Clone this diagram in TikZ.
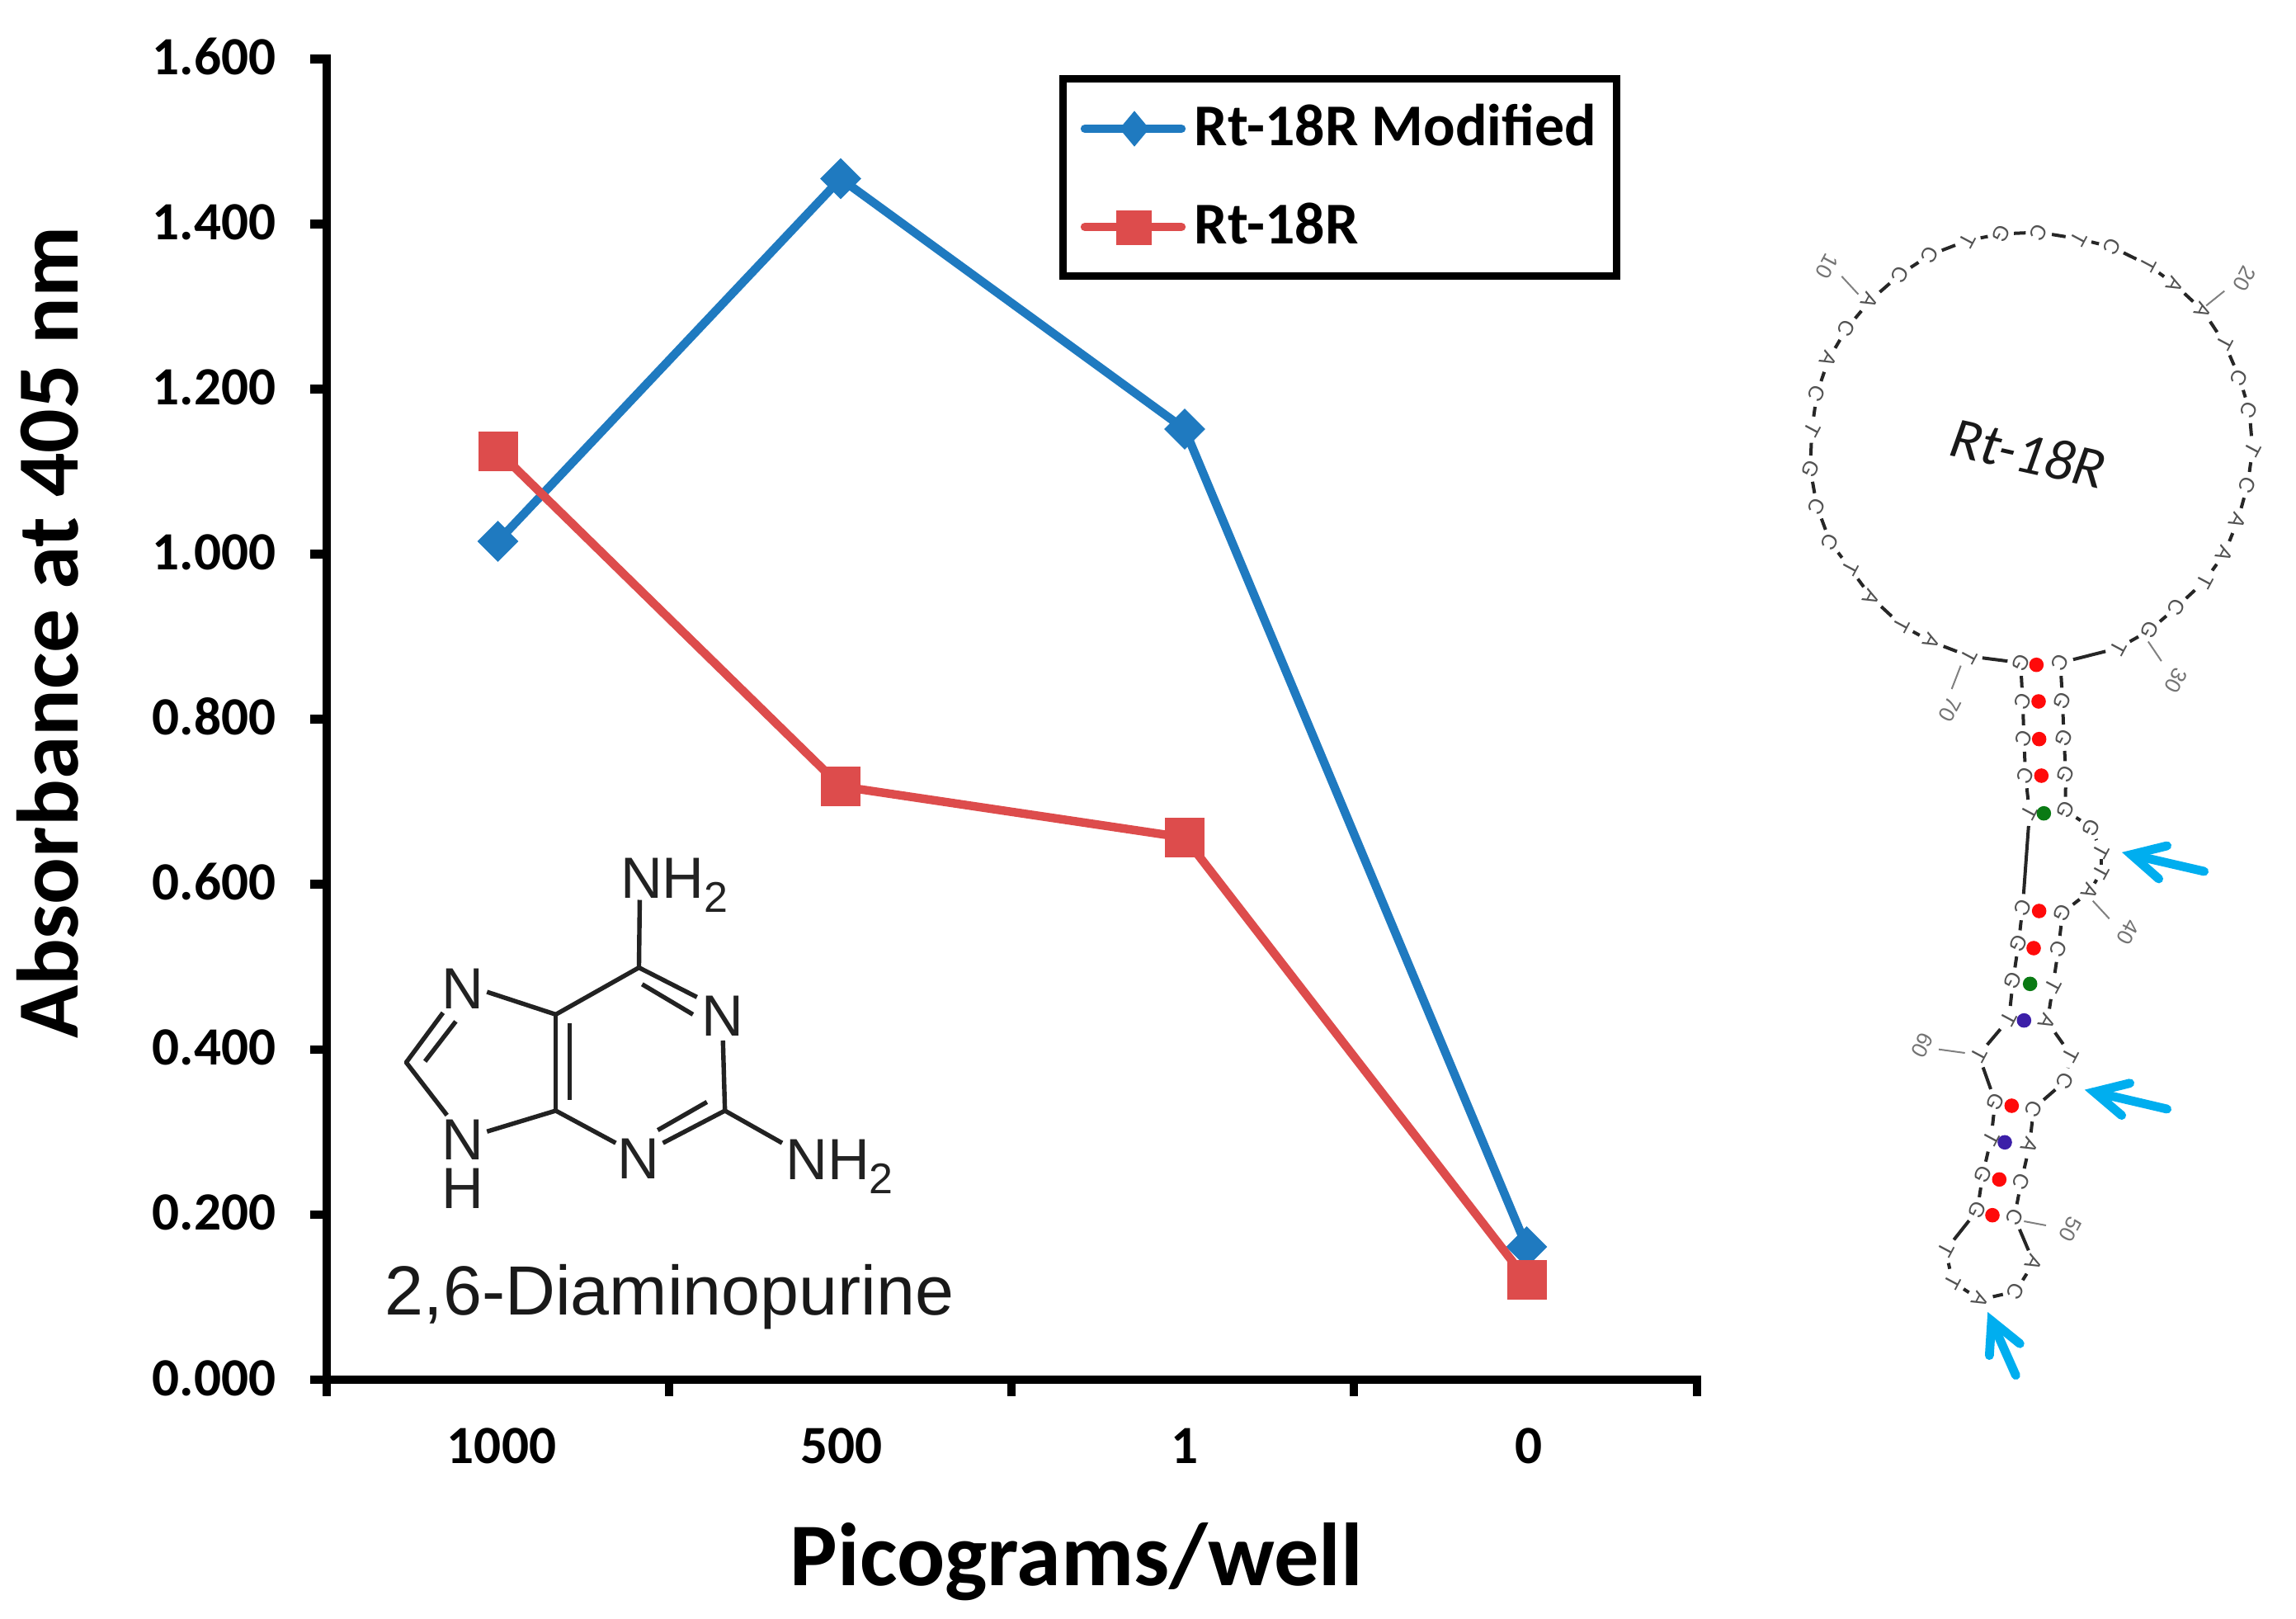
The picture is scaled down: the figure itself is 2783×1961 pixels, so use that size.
\documentclass[tikz,border=0pt]{standalone}
\usepackage{fontspec}
\setmainfont{Carlito}
\newfontfamily\arialf{Liberation Sans}
\usetikzlibrary{shapes.geometric}
\newcommand{\fsz}[1]{\fontsize{#1}{#1}\selectfont}
\definecolor{serblue}{HTML}{1F7AC0}
\definecolor{serred}{HTML}{DD4C4C}
\definecolor{arrowcyan}{HTML}{00AEEF}
\definecolor{bpred}{HTML}{FF0A0A}
\definecolor{bpgreen}{HTML}{0A7A14}
\definecolor{bppurple}{HTML}{3C1FA8}
\definecolor{chemink}{HTML}{222222}
\tikzset{
  axisline/.style={line width=2.65pt,black},
  ticklbl/.style={font=\bfseries\fsz{16.3},inner sep=0pt,black},
  axistitle/.style={font=\bfseries\fsz{26.45},inner sep=0pt,black},
  blueline/.style={line width=2.6pt,serblue},
  redline/.style={line width=2.6pt,serred},
  bluemark/.style={diamond,fill=serblue,inner sep=0pt,minimum size=12.6pt},
  redmark/.style={rectangle,fill=serred,inner sep=0pt,minimum size=12pt},
  legtext/.style={font=\bfseries\fsz{17.95},inner sep=0pt,anchor=base west,black},
  bondline/.style={line width=1.35pt,chemink},
  atom/.style={font=\arialf\fsz{17.6},inner sep=1.2pt,text=chemink},
  bp/.style={circle,fill=#1,inner sep=0pt,minimum size=4.4pt},
  nt/.style={font=\arialf\fsz{6.4},inner sep=0pt,rotate=-118,text=black!68},
  numlbl/.style={font=\arialf\fsz{6.6},inner sep=0pt,rotate=-118,text=black!55},
  numtick/.style={line width=0.5pt,black!50},
  chain/.style={line width=1pt,black!85,shorten >=4pt,shorten <=4pt},
  cyanarrow/.style={line width=2.7pt,arrowcyan,line cap=round,line join=miter,miter limit=10},
}
\begin{document}
\begin{tikzpicture}[x=0.25pt,y=-0.25pt]
\useasboundingbox (0,0) rectangle (2783,1961);
% ---------- axes
\draw[axisline] (396,66) -- (396,1692);
\draw[axisline] (376,1672) -- (2062,1672);
\foreach \i/\lab in {0/0.000,1/0.200,2/0.400,3/0.600,4/0.800,5/1.000,6/1.200,7/1.400,8/1.600}{
  \pgfmathsetmacro\yy{1672-\i*200.1}
  \pgfmathsetmacro\yb{\yy+19}
  \draw[axisline] (376,\yy) -- (396,\yy);
  \node[ticklbl,anchor=base east] (yl\i) at (335,\yb) {\lab};
}
\foreach \xx in {811,1226,1641,2057}{ \draw[axisline] (\xx,1672) -- (\xx,1692); }
\foreach \nm/\lab/\xx in {xa/1000/608,xb/500/1020,xc/1/1436.5,xd/0/1853}{
  \node[ticklbl,anchor=base] (\nm) at (\xx,1773) {\lab};
}
\node[axistitle,anchor=base,font=\bfseries\fsz{27.1}] (xtitle) at (1305,1921) {Picograms/well};
\node[axistitle,anchor=base,rotate=90] (ytitle) at (94,767) {Absorbance at 405 nm};
% ---------- data
\coordinate (b1) at (603.5,656);
\coordinate (b2) at (1019,216.5);
\coordinate (b3) at (1436,520);
\coordinate (b4) at (1850.5,1511);
\coordinate (r1) at (604,547);
\coordinate (r2) at (1019,953);
\coordinate (r3) at (1436,1015);
\coordinate (r4) at (1850.5,1551);
\draw[blueline,line join=round] (b1) -- (b2) -- (b3) -- (b4);
\foreach \p in {b1,b2,b3,b4}{ \node[bluemark] (m\p) at (\p) {}; }
\draw[redline,line join=round] (r1) -- (r2) -- (r3) -- (r4);
\foreach \p in {r1,r2,r3,r4}{ \node[redmark] (m\p) at (\p) {}; }
% ---------- legend
\node[draw=black,line width=2.2pt,inner sep=0pt,minimum width=167.9pt,minimum height=59.7pt,fill=white] (legend) at (1624,215) {};
\coordinate (la1) at (1315,156); \coordinate (la2) at (1432,156);
\coordinate (lb1) at (1315,275); \coordinate (lb2) at (1432,275);
\draw[blueline,line cap=round] (la1) -- (la2);
\draw[redline,line cap=round] (lb1) -- (lb2);
\node[diamond,fill=serblue,inner sep=0pt,minimum width=9.2pt,minimum height=11pt,shape aspect=0.84] (lm1) at (1375,156) {};
\node[rectangle,fill=serred,inner sep=0pt,minimum width=10.7pt,minimum height=10.6pt] (lm2) at (1374.5,276) {};
\node[legtext] (lt1) at (1447,176) {Rt-18R Modified};
\node[legtext] (lt2) at (1447,295) {Rt-18R};
% ---------- 2,6-diaminopurine
\begin{scope}[shift={(440,1000)},x=0.12118pt,y=-0.10522pt]
  \coordinate (C6) at (690,410);
  \coordinate (C5) at (482,545);
  \coordinate (C4) at (482,822);
  \coordinate (C2) at (905,822);
  \coordinate (C8) at (108,683);
  \node[atom] (N1) at (900,550) {N};
  \node[atom] (N3) at (688,960) {N};
  \node[atom] (N7) at (250,470) {N};
  \node[atom] (N9) at (250,905) {N};
  \node[atom] (H9) at (250,1045) {H};
  \node[atom,anchor=base west,inner sep=0pt] (nhtop) at (642,210) {NH\raisebox{-4.2pt}{\fsz{13}2}};
  \node[atom,anchor=base west,inner sep=0pt] (nhbot) at (1055,1020) {NH\raisebox{-4.2pt}{\fsz{13}2}};
  \coordinate (endtop) at (692,215);
  \coordinate (endbot) at (1048,915);
  \coordinate (d1a) at (698,458); \coordinate (d1b) at (825,545);
  \coordinate (d2a) at (517,570); \coordinate (d2b) at (517,790);
  \coordinate (d3a) at (737,878); \coordinate (d3b) at (860,797);
  \coordinate (d4a) at (232,565); \coordinate (d4b) at (155,680);
  \coordinate (o1) at (835,495);
  \coordinate (o2) at (632,915);
  \coordinate (o3) at (750,915);
  \coordinate (o4) at (900,620);
  \coordinate (o5) at (310,882);
  \coordinate (o6) at (310,480);
  \coordinate (o7) at (200,540);
  \coordinate (o8) at (210,835);
  \draw[bondline] (C6) -- (endtop);
  \draw[bondline] (C6) -- (o1);
  \draw[bondline] (d1a) -- (d1b);
  \draw[bondline] (C6) -- (C5);
  \draw[bondline] (C5) -- (C4);
  \draw[bondline] (d2a) -- (d2b);
  \draw[bondline] (C4) -- (o2);
  \draw[bondline] (o3) -- (C2);
  \draw[bondline] (d3a) -- (d3b);
  \draw[bondline] (C2) -- (o4);
  \draw[bondline] (C2) -- (endbot);
  \draw[bondline] (C4) -- (o5);
  \draw[bondline] (C5) -- (o6);
  \draw[bondline,line join=round] (o7) -- (C8) -- (o8);
  \draw[bondline] (d4a) -- (d4b);
\end{scope}
\node[font=\arialf\fsz{21.1},inner sep=0pt,anchor=base west,text=black!90] (chemname) at (466,1593) {2,6-Diaminopurine};
% ---------- hairpin: ring and upper ends
\begin{scope}[shift={(2150,240)},x=0.1004pt,y=-0.0988pt]
  \foreach \nm/\ltr/\xx/\yy in {
    n10/A/290/315,n11/C/380/235,n12/C/470/175,n13/T/585/130,n14/G/685/110,n15/C/800/105,
    n16/T/920/125,n17/C/1020/150,n18/T/1130/205,n19/A/1210/265,n20/A/1295/345,n21/T/1360/445,
    n22/C/1405/550,n23/C/1435/650,n24/T/1445/770,n25/C/1430/880,n26/A/1400/990,n27/A/1360/1090,
    n28/T/1300/1175,n29/C/1215/1255,n30/G/1135/1325,n31/T/1040/1380,n32/C/865/1425,
    n69/G/745/1425,n70/T/590/1405,n71/A/475/1360,n72/T/385/1310,n73/A/295/1225,n74/T/230/1135,
    n75/C/170/1055,n76/C/130/945,n77/G/110/830,n78/T/115/710,n79/C/130/600,n80/A/165/495,n81/C/220/400}{
    \node[nt] (\nm) at (\xx,\yy) {\ltr};
  }
  \node[numlbl] (lab10) at (160,210) {10};
  \node[numlbl] (lab20) at (1420,248) {20};
  \node[numlbl] (lab30) at (1215,1480) {30};
  \coordinate (t10a) at (205,240); \coordinate (t10b) at (255,295);
  \coordinate (t20a) at (1305,330); \coordinate (t20b) at (1360,285);
  \coordinate (t30a) at (1130,1360); \coordinate (t30b) at (1170,1420);
  \draw[numtick] (t10a) -- (t10b);
  \draw[numtick] (t20a) -- (t20b);
  \draw[numtick] (t30a) -- (t30b);
  \node[font=\itshape\fsz{17.5},inner sep=0pt,rotate=-12.5,text=black!90] (rtlabel) at (768,782) {Rt-18R};
\end{scope}
% ---------- hairpin: stem upper part
\begin{scope}[shift={(2250,780)},x=0.08333pt,y=-0.08333pt]
  \foreach \nm/\ltr/\xx/\yy in {
    n33/G/750/208,n34/G/755/342,n35/G/762/475,n36/G/760/605,n37/G/855/670,n38/T/890/755,
    n39/T/890/830,n40/A/850/900,n41/G/750/978,n42/C/735/1110,n43/T/715/1245,n44/A/695/1375,
    n61/T/555/1365,n62/G/570/1225,n63/G/590/1090,n64/C/605/958,n65/T/630/615,n66/C/615/478,
    n67/C/610/345,n68/C/605/208}{
    \node[nt] (\nm) at (\xx,\yy) {\ltr};
  }
  \node[numlbl] (lab70) at (340,240) {70};
  \node[numlbl] (lab40) at (990,1050) {40};
  \coordinate (t70a) at (380,80); \coordinate (t70b) at (347,165);
  \coordinate (t40a) at (860,935); \coordinate (t40b) at (920,1000);
  \draw[numtick] (t70a) -- (t70b);
  \draw[numtick] (t40a) -- (t40b);
  \foreach \nm/\col/\xx/\yy in {
    p1/bpred/655/77,p2/bpred/663/210,p3/bpred/665/347,p4/bpred/673/480,p5/bpgreen/682/617,
    p6/bpred/665/972,p7/bpred/645/1107,p8/bpgreen/632/1237,p9/bppurple/610/1370}{
    \node[bp=\col] (\nm) at (\xx,\yy) {};
  }
  \coordinate (a1t) at (1000,767); \coordinate (a1e) at (1265,828);
  \coordinate (a1u) at (1130,735); \coordinate (a1d) at (1100,855);
  \draw[cyanarrow] (a1u) -- (a1t) -- (a1d);
  \draw[cyanarrow] (a1t) -- (a1e);
\end{scope}
% ---------- hairpin: lower part
\begin{scope}[shift={(2250,1240)},x=0.08333pt,y=-0.08333pt]
  \foreach \nm/\ltr/\xx/\yy in {
    n45/T/780/115,n46/C/760/210,n47/C/645/310,n48/A/630/445,n49/C/600/575,n50/C/575/705,
    n51/A/645/870,n52/C/580/975,n53/A/450/1005,n54/T/350/940,n55/T/325/825,n56/G/440/680,
    n57/G/460/550,n58/T/490/420,n59/G/505/285,n60/T/445/115}{
    \node[nt] (\nm) at (\xx,\yy) {\ltr};
  }
  \node[numlbl] (lab50) at (780,748) {50};
  \node[numlbl] (lab60) at (240,80) {60};
  \coordinate (t50a) at (610,720); \coordinate (t50b) at (690,735);
  \coordinate (t60a) at (300,95); \coordinate (t60b) at (395,108);
  \draw[numtick] (t50a) -- (t50b);
  \draw[numtick] (t60a) -- (t60b);
  \foreach \nm/\col/\xx/\yy in {
    p10/bpred/565/300,p11/bppurple/540/433,p12/bpred/520/568,p13/bpred/495/698}{
    \node[bp=\col] (\nm) at (\xx,\yy) {};
  }
  \coordinate (a2t) at (865,250); \coordinate (a2e) at (1130,312);
  \coordinate (a2u) at (995,218); \coordinate (a2d) at (965,335);
  \draw[cyanarrow] (a2u) -- (a2t) -- (a2d);
  \draw[cyanarrow] (a2t) -- (a2e);
  \coordinate (a3t) at (492,1082); \coordinate (a3e) at (580,1280);
  \coordinate (a3u) at (595,1165); \coordinate (a3d) at (484,1208);
  \draw[cyanarrow] (a3u) -- (a3t) -- (a3d);
  \draw[cyanarrow] (a3t) -- (a3e);
\end{scope}
% ---------- chain between bases
\foreach \i in {10,...,80}{
  \pgfmathtruncatemacro\j{\i+1}
  \draw[chain] (n\i.center) -- (n\j.center);
}
\draw[chain] (n81.center) -- (n10.center);
\end{tikzpicture}
\end{document}
